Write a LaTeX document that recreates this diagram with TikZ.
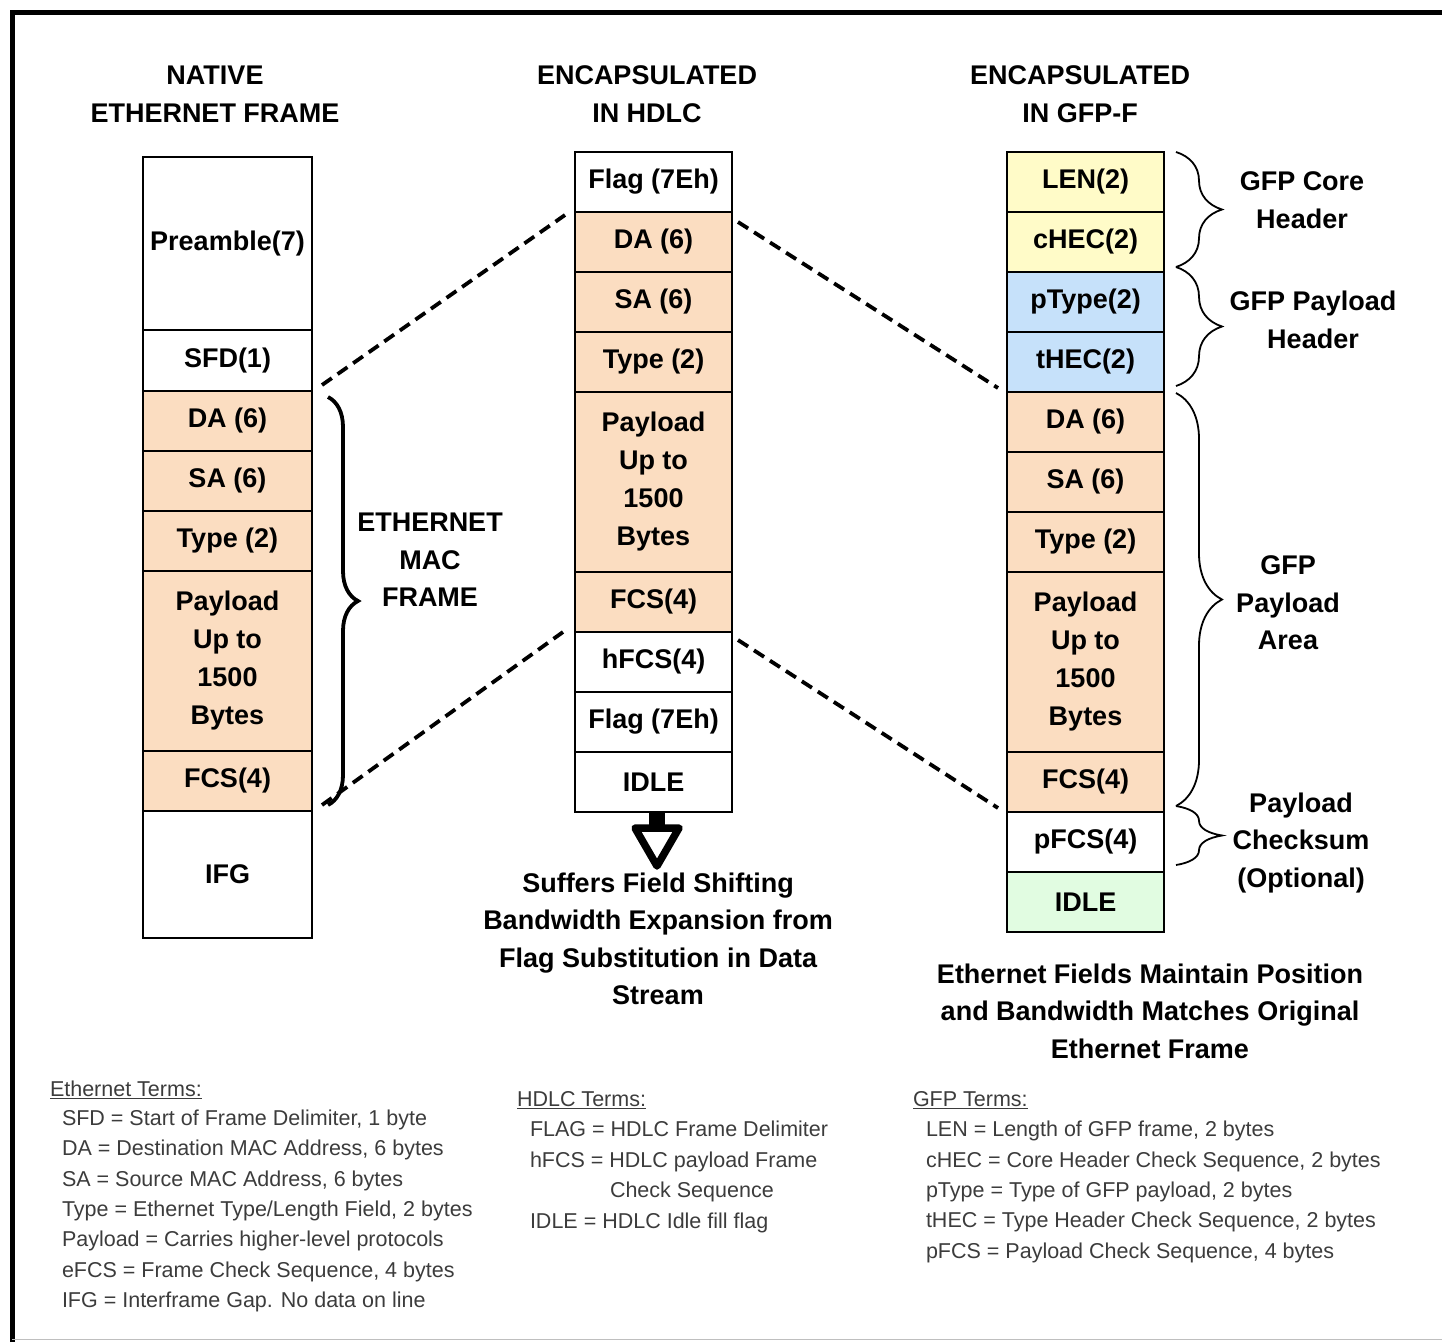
\documentclass[tikz,border=0pt]{standalone}
\usepackage{fontspec}
\setmainfont{Liberation Sans}
\usetikzlibrary{decorations.pathreplacing}
\definecolor{peach}{RGB}{251,221,193}
\definecolor{paleyellow}{RGB}{255,251,200}
\definecolor{paleblue}{RGB}{198,225,250}
\definecolor{palegreen}{RGB}{225,252,225}
\definecolor{termgray}{RGB}{60,60,60}
\begin{document}
\begin{tikzpicture}[x=1pt,y=-1pt,
 every node/.style={inner sep=0pt,outer sep=0pt},
 field/.style={draw,line width=2pt,anchor=north west,align=center,
   font=\bfseries\fontsize{27}{38}\selectfont},
 heading/.style={align=center,font=\bfseries\fontsize{27}{37.5}\selectfont},
 terms/.style={anchor=west,align=left,text=termgray,font=\fontsize{21.5}{30.4}\selectfont},
 link/.style={line width=3.8pt,dash pattern=on 12pt off 7pt},
 bigbrace/.style={decorate,decoration={brace,amplitude=#1}}]
  \useasboundingbox (0,0) rectangle (1442,1342);
  % outer frame
  \draw[line width=5pt] (12,1342)--(12,12)--(1442,12);
  \draw[black!25,line width=1pt] (12,1339)--(1442,1339);
  % headings
  \node[heading] (hnat) at (215,94) {NATIVE\\ETHERNET FRAME};
  \node[heading] (hhdlc) at (647,94) {ENCAPSULATED\\IN HDLC};
  \node[heading] (hgfp) at (1080,94) {ENCAPSULATED\\IN GFP-F};
  % native ethernet frame
  \foreach \n/\ya/\yb/\txt/\col in {epre/157/330/{Preamble(7)}/white,
      esfd/330/391/{SFD(1)}/white, eda/391/451/{DA (6)}/peach,
      esa/451/511/{SA (6)}/peach, etype/511/571/{Type (2)}/peach,
      epay/571/751/{Payload\\Up to\\1500\\Bytes}/peach,
      efcs/751/811/{FCS(4)}/peach, eifg/811/938/{IFG}/white}{
    \pgfmathsetmacro{\h}{\yb-\ya}
    \node[field,fill=\col,minimum width=169pt,minimum height=\h pt] (\n) at (143,\ya) {\txt};
  }
  % hdlc
  \foreach \n/\ya/\yb/\txt/\col in {mflag/152/212/{Flag (7Eh)}/white,
      mda/212/272/{DA (6)}/peach, msa/272/332/{SA (6)}/peach,
      mtype/332/392/{Type (2)}/peach,
      mpay/392/572/{Payload\\Up to\\1500\\Bytes}/peach,
      mfcs/572/632/{FCS(4)}/peach, mhfcs/632/692/{hFCS(4)}/white,
      mflagb/692/752/{Flag (7Eh)}/white, midle/752/812/{IDLE}/white}{
    \pgfmathsetmacro{\h}{\yb-\ya}
    \node[field,fill=\col,minimum width=157pt,minimum height=\h pt] (\n) at (575,\ya) {\txt};
  }
  % gfp-f
  \foreach \n/\ya/\yb/\txt/\col in {glen/152/212/{LEN(2)}/paleyellow,
      gchec/212/272/{cHEC(2)}/paleyellow, gptype/272/332/{pType(2)}/paleblue,
      gthec/332/392/{tHEC(2)}/paleblue, gda/392/452/{DA (6)}/peach,
      gsa/452/512/{SA (6)}/peach, gtype/512/572/{Type (2)}/peach,
      gpay/572/752/{Payload\\Up to\\1500\\Bytes}/peach,
      gfcs/752/812/{FCS(4)}/peach, gpfcs/812/872/{pFCS(4)}/white,
      gidle/872/932/{IDLE}/palegreen}{
    \pgfmathsetmacro{\h}{\yb-\ya}
    \node[field,fill=\col,minimum width=157pt,minimum height=\h pt] (\n) at (1007,\ya) {\txt};
  }
  % dashed fan-out lines
  \draw[link] ([xshift=10pt,yshift=6pt]esfd.south east) -- ([xshift=-10pt,yshift=-3pt]mflag.south west);
  \draw[link] ([xshift=10pt,yshift=6pt]efcs.south east) -- ([xshift=-12pt]mfcs.south west);
  \draw[link] ([xshift=6pt,yshift=-10pt]mflag.south east) -- ([xshift=-9pt,yshift=4pt]gthec.south west);
  \draw[link] ([xshift=6pt,yshift=-8pt]mfcs.south east) -- ([xshift=-9pt,yshift=4pt]gfcs.south west);
  % braces
  \draw[bigbrace=30pt,line width=3.8pt] ([xshift=16pt,yshift=-6pt]eda.north east) -- ([xshift=16pt,yshift=6pt]efcs.south east);
  \node[heading] (macf) at (430,560) {ETHERNET\\MAC\\FRAME};
  \draw[bigbrace=46pt,line width=1.8pt] ([xshift=12pt]glen.north east) -- ([xshift=12pt,yshift=5pt]gchec.south east);
  \draw[bigbrace=46pt,line width=1.8pt] ([xshift=12pt,yshift=5pt]gptype.north east) -- ([xshift=12pt,yshift=6pt]gthec.south east);
  \draw[bigbrace=46pt,line width=1.8pt] ([xshift=12pt,yshift=-1pt]gda.north east) -- ([xshift=12pt,yshift=6pt]gfcs.south east);
  \draw[bigbrace=46pt,line width=1.8pt] ([xshift=12pt,yshift=6pt]gfcs.south east) -- ([xshift=12pt,yshift=7pt]gpfcs.south east);
  \node[heading] (lcore) at (1302,200) {GFP Core\\Header};
  \node[heading] (lphdr) at (1313,320) {GFP Payload\\Header};
  \node[heading] (larea) at (1288,603) {GFP\\Payload\\Area};
  \node[heading] (lchk) at (1301,843) {Payload\\Checksum\\(Optional)};
  % hollow down arrow under hdlc
  \fill (649,812) rectangle (665,826);
  \draw[line width=7.5pt,fill=white,line join=round] (635,828)--(679,828)--(657,866)--cycle;
  % captions
  \node[heading] (cap1) at (658,939) {Suffers Field Shifting\\Bandwidth Expansion from\\Flag Substitution in Data\\Stream};
  \node[heading] (cap2) at (1150,1011) {Ethernet Fields Maintain Position\\and Bandwidth Matches Original\\Ethernet Frame};
  % terms
  \node[terms] (teth) at (50,1090) {\underline{Ethernet Terms:}};
  \node[terms] (teth2) at (62,1211) {SFD = Start of Frame Delimiter, 1 byte\\
    DA = Destination MAC Address, 6 bytes\\
    SA = Source MAC Address, 6 bytes\\
    Type = Ethernet Type/Length Field, 2 bytes\\
    Payload = Carries higher-level protocols\\
    eFCS = Frame Check Sequence, 4 bytes\\
    IFG = Interframe Gap. No data on line};
  \node[terms] (thdlc) at (517,1100) {\underline{HDLC Terms:}};
  \node[terms] (thdlc2) at (530,1177) {FLAG = HDLC Frame Delimiter\\
    hFCS = HDLC payload Frame\\
    \hspace*{80pt}Check Sequence\\
    IDLE = HDLC Idle fill flag};
  \node[terms] (tgfp) at (913,1100) {\underline{GFP Terms:}};
  \node[terms] (tgfp2) at (926,1192) {LEN = Length of GFP frame, 2 bytes\\
    cHEC = Core Header Check Sequence, 2 bytes\\
    pType = Type of GFP payload, 2 bytes\\
    tHEC = Type Header Check Sequence, 2 bytes\\
    pFCS = Payload Check Sequence, 4 bytes};
\end{tikzpicture}
\end{document}
